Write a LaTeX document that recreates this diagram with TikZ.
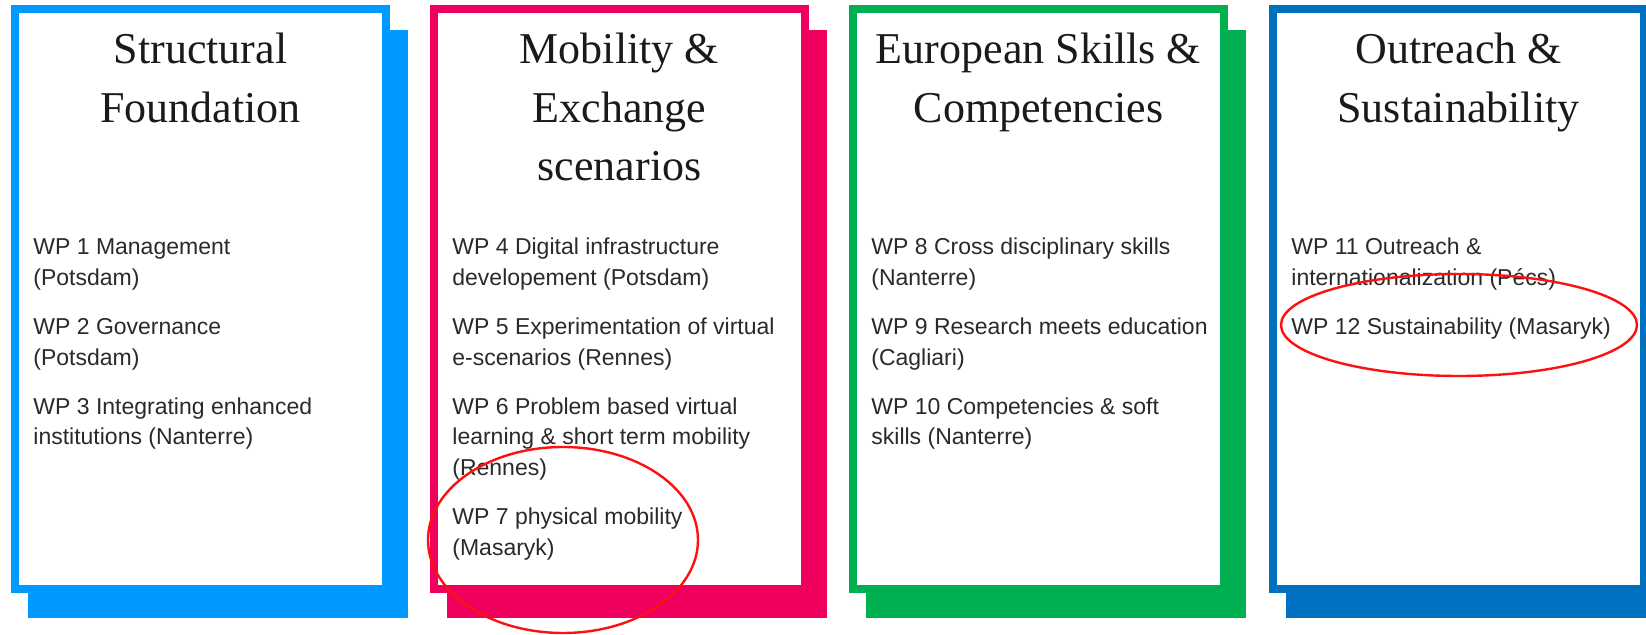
\documentclass[tikz,border=0pt]{standalone}
\usepackage{fontspec}
\setmainfont{Liberation Serif}
\newfontfamily\bodyfont{Liberation Sans}
\definecolor{cBlue}{HTML}{0099FF}
\definecolor{cPink}{HTML}{F0005E}
\definecolor{cGreen}{HTML}{00AF50}
\definecolor{cNavy}{HTML}{0070C0}
\definecolor{titlecol}{HTML}{1A1A1A}
\definecolor{bodycol}{HTML}{2A2A2A}
\definecolor{markred}{HTML}{FF1010}
\tikzset{
 shadowbox/.style={fill=#1, draw=none, inner sep=0pt, outer sep=0pt, minimum width=190pt, minimum height=294pt},
 frontbox/.style={fill=white, draw=#1, line width=4pt, inner sep=0pt, outer sep=0pt, minimum width=185.5pt, minimum height=290pt},
 titletext/.style={anchor=base, font=\fontsize{22}{26}\selectfont, text=titlecol, inner sep=0pt},
 bodytext/.style={anchor=base west, font=\bodyfont\fontsize{11.5}{14}\selectfont, text=bodycol, inner sep=0pt},
 markring/.style={draw=markred, line width=1.2pt}
}
\begin{document}
\begin{tikzpicture}[x=0.5pt,y=-0.5pt]
\useasboundingbox (0,0) rectangle (1646,635);
\begin{scope}
\clip (0,0) rectangle (1646,635);
% Panel 1
\node[shadowbox=cBlue] (s1) at (218,324) {};
\node[frontbox=cBlue] (f1) at (200.5,299) {};
\node[titletext] (t1a) at (200.5,64) {Structural};
\node[titletext] (t1b) at (200.5,123) {Foundation};
\node[bodytext] (w1a) at (33,255) {WP 1 Management};
\node[bodytext] (w1b) at (33,285.5) {(Potsdam)};
\node[bodytext] (w2a) at (33,335) {WP 2 Governance};
\node[bodytext] (w2b) at (33,365.5) {(Potsdam)};
\node[bodytext] (w3a) at (33,414.5) {WP 3 Integrating enhanced};
\node[bodytext] (w3b) at (33,445) {institutions (Nanterre)};
% Panel 2
\begin{scope}[shift={(419,0)}]
\node[shadowbox=cPink] (s2) at (218,324) {};
\node[frontbox=cPink] (f2) at (200.5,299) {};
\node[titletext] (t2a) at (200.5,64) {Mobility \&};
\node[titletext] (t2b) at (200.5,123) {Exchange};
\node[titletext] (t2c) at (200.5,181) {scenarios};
\node[bodytext] (w4a) at (33,255) {WP 4 Digital infrastructure};
\node[bodytext] (w4b) at (33,285.5) {developement (Potsdam)};
\node[bodytext] (w5a) at (33,335) {WP 5 Experimentation of virtual};
\node[bodytext] (w5b) at (33,365.5) {e-scenarios (Rennes)};
\node[bodytext] (w6a) at (33,414.5) {WP 6 Problem based virtual};
\node[bodytext] (w6b) at (33,445) {learning \& short term mobility};
\node[bodytext] (w6c) at (33,475.5) {(Rennes)};
\node[bodytext] (w7a) at (33,525) {WP 7 physical mobility};
\node[bodytext] (w7b) at (33,555.5) {(Masaryk)};
\end{scope}
% Panel 3
\begin{scope}[shift={(838,0)}]
\node[shadowbox=cGreen] (s3) at (218,324) {};
\node[frontbox=cGreen] (f3) at (200.5,299) {};
\node[titletext] (t3a) at (200.5,64) {European Skills \&};
\node[titletext] (t3b) at (200.5,123) {Competencies};
\node[bodytext] (w8a) at (33,255) {WP 8 Cross disciplinary skills};
\node[bodytext] (w8b) at (33,285.5) {(Nanterre)};
\node[bodytext] (w9a) at (33,335) {WP 9 Research meets education};
\node[bodytext] (w9b) at (33,365.5) {(Cagliari)};
\node[bodytext] (w10a) at (33,414.5) {WP 10 Competencies \& soft};
\node[bodytext] (w10b) at (33,445) {skills (Nanterre)};
\end{scope}
% Panel 4
\begin{scope}[shift={(1258,0)}]
\node[shadowbox=cNavy] (s4) at (218,324) {};
\node[frontbox=cNavy] (f4) at (200.5,299) {};
\node[titletext] (t4a) at (200.5,64) {Outreach \&};
\node[titletext] (t4b) at (200.5,123) {Sustainability};
\node[bodytext] (w11a) at (33,255) {WP 11 Outreach \&};
\node[bodytext] (w11b) at (33,285.5) {internationalization (Pécs)};
\node[bodytext] (w12a) at (33,335) {WP 12 Sustainability (Masaryk)};
\end{scope}
% red marks
\draw[markring] (563,540) ellipse [x radius=135, y radius=93];
\draw[markring] (1459,325) ellipse [x radius=178, y radius=51];
\end{scope}
\end{tikzpicture}
\end{document}
